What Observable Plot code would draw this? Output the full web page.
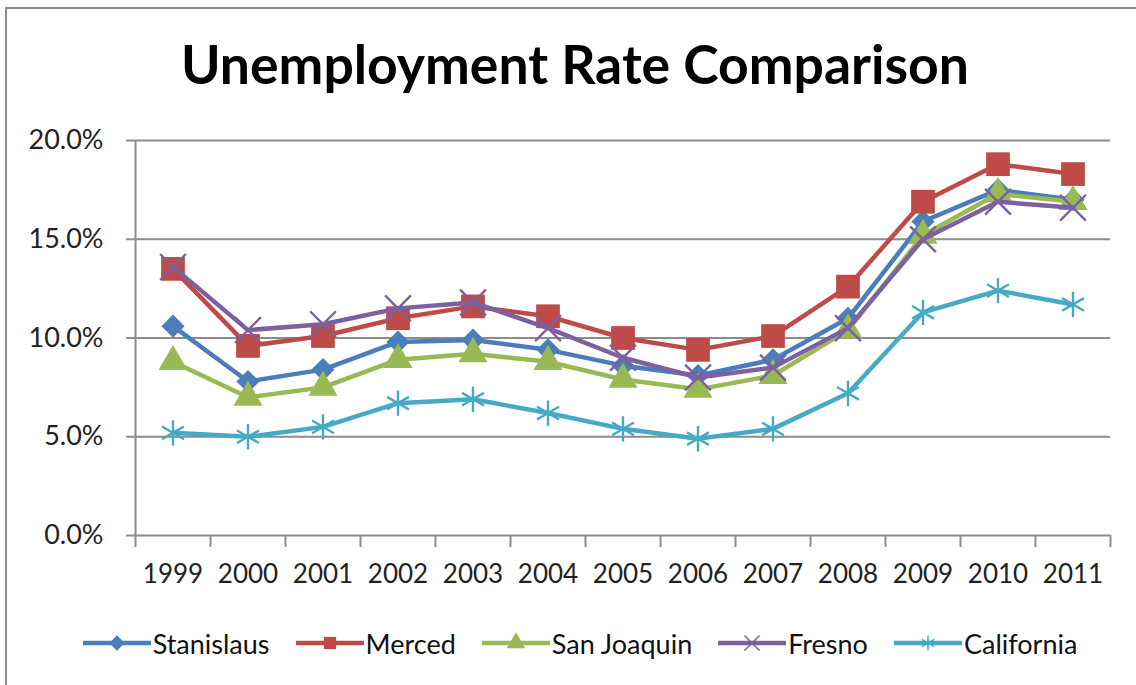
<!DOCTYPE html>
<html>
<head>
<meta charset="utf-8">
<script src="https://cdn.jsdelivr.net/npm/d3@7"></script>
<script src="https://cdn.jsdelivr.net/npm/@observablehq/plot@0.6"></script>
<style>
  html, body { margin: 0; padding: 0; background: #fff; }
  body { width: 1136px; height: 685px; overflow: hidden; position: relative; font-family: Lato, "Open Sans", sans-serif; color: #222; }
  #frame { position: absolute; left: 5px; top: 7px; width: 1200px; height: 760px; border: 2px solid #8c8c8c; box-sizing: border-box; }
  #title { position: absolute; left: 0; top: 31px; width: 1150px; text-align: center; font-weight: 700; font-size: 53.5px; line-height: 64px; color: #000; white-space: nowrap; }
  #chart { position: absolute; left: 0; top: 120px; }
  #legend { position: absolute; left: 0; top: 628px; width: 1160px; height: 30px; display: flex; justify-content: center; align-items: center; gap: 26px; font-size: 27px; color: #111; }
  .item { display: flex; align-items: center; gap: 2px; }
  .item svg { display: block; }
</style>
</head>
<body>
<div id="frame"></div>
<div id="title">Unemployment Rate Comparison</div>
<div id="chart"></div>
<div id="legend"></div>
<script>
// ---- data (percent) ----
const years = [1999, 2000, 2001, 2002, 2003, 2004, 2005, 2006, 2007, 2008, 2009, 2010, 2011];
const stanislaus = [10.6, 7.8, 8.4, 9.8, 9.9, 9.4, 8.6, 8.1, 8.9, 11.0, 15.9, 17.5, 17.0];
const merced     = [13.5, 9.6, 10.1, 11.0, 11.6, 11.1, 10.0, 9.4, 10.1, 12.6, 16.9, 18.8, 18.3];
const sanJoaquin = [8.8, 7.0, 7.5, 8.9, 9.2, 8.8, 7.9, 7.4, 8.1, 10.4, 15.2, 17.3, 16.9];
const fresno     = [13.6, 10.4, 10.7, 11.5, 11.8, 10.5, 9.0, 8.0, 8.5, 10.5, 15.0, 16.9, 16.6];
const california = [5.2, 5.0, 5.5, 6.7, 6.9, 6.2, 5.4, 4.9, 5.4, 7.2, 11.3, 12.4, 11.7];
const seriesNames = ["Stanislaus", "Merced", "San Joaquin", "Fresno", "California"];
const seriesValues = [stanislaus, merced, sanJoaquin, fresno, california];
const yTicks = [0, 0.05, 0.10, 0.15, 0.20];

// ---- styles ----
const seriesColors = ["#4A7EBB", "#BE4B48", "#98B954", "#7D60A0", "#46AAC5"];
const seriesSymbols = ["diamond2", "square", "triangle", "times", "asterisk"];
const d3Symbols = [d3.symbolDiamond2, d3.symbolSquare, d3.symbolTriangle, d3.symbolTimes, d3.symbolAsterisk];
const symbolR = [10.4, 13.4, 10.8, 11.8, 12];
const hollow = [false, false, false, true, true];
const gridColor = "#8c8c8c";

const rows = seriesNames.map((name, k) =>
  years.map((year, i) => ({ year, series: name, value: seriesValues[k][i] / 100 }))
);
const boundaries = years.map(y => y - 0.5).concat([years[years.length - 1] + 0.5]);

const marks = [
  Plot.ruleY(yTicks, { stroke: gridColor, strokeWidth: 2 }),
  Plot.ruleX([boundaries[0]], { y1: 0, y2: yTicks[yTicks.length - 1], stroke: gridColor, strokeWidth: 2 }),
  Plot.axisY(yTicks, { label: null, tickFormat: d3.format(".1%"), tickSize: 9, tickPadding: 23, fontSize: 27, stroke: gridColor, strokeWidth: 2 }),
  Plot.axisX(boundaries, { label: null, tickSize: 12, tickFormat: () => "", stroke: gridColor, strokeWidth: 2 }),
  Plot.axisX(years, { label: null, tickSize: 0, tickPadding: 29, fontSize: 26, tickFormat: "d" })
];
rows.forEach((data, k) => {
  marks.push(Plot.line(data, { x: "year", y: "value", stroke: seriesColors[k], strokeWidth: 4.5, strokeLinejoin: "round" }));
  marks.push(Plot.dot(data, hollow[k]
    ? { x: "year", y: "value", symbol: seriesSymbols[k], r: symbolR[k], stroke: seriesColors[k], strokeWidth: 2.4, fill: "none" }
    : { x: "year", y: "value", symbol: seriesSymbols[k], r: symbolR[k], fill: seriesColors[k], stroke: "none" }));
});

const chart = Plot.plot({
  width: 1136,
  height: 490,
  marginTop: 20,
  marginBottom: 75,
  marginLeft: 135,
  marginRight: 26,
  style: { fontFamily: "Lato, 'Open Sans', sans-serif", color: "#222", background: "transparent", overflow: "visible" },
  x: { type: "linear", domain: [boundaries[0], boundaries[boundaries.length - 1]], axis: null, label: null },
  y: { domain: [0, yTicks[yTicks.length - 1]], axis: null, label: null },
  marks
});
document.getElementById("chart").appendChild(chart);

// ---- legend ----
const legend = d3.select("#legend");
seriesNames.forEach((name, k) => {
  const item = legend.append("div").attr("class", "item");
  const svg = item.append("svg").attr("width", 68).attr("height", 30);
  svg.append("line").attr("x1", 0).attr("x2", 68).attr("y1", 15).attr("y2", 15)
    .attr("stroke", seriesColors[k]).attr("stroke-width", 4.5);
  const p = svg.append("path").attr("transform", "translate(34,15)")
    .attr("d", d3.symbol(d3Symbols[k], 150)());
  if (hollow[k]) p.attr("fill", "none").attr("stroke", seriesColors[k]).attr("stroke-width", 1.5);
  else p.attr("fill", seriesColors[k]);
  item.append("span").text(name);
});
</script>
</body>
</html>
